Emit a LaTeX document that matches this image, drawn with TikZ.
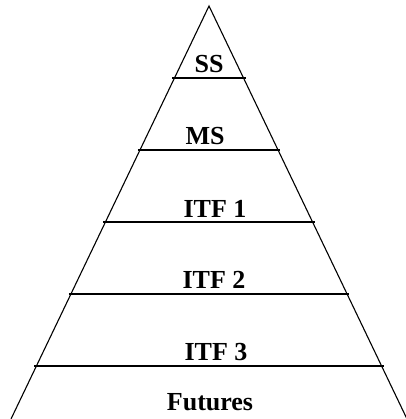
\documentclass[tikz,border=0pt]{standalone}
\usepackage{fontspec}
\setmainfont{Liberation Serif}
\usetikzlibrary{calc}
\tikzset{layer/.style={font=\bfseries\fontsize{26}{30}\selectfont, anchor=base, inner sep=0pt}}

\begin{document}
\begin{tikzpicture}[x=1pt,y=-1pt,line width=1.1pt]
    \useasboundingbox (0,0) rectangle (405,419);
    \coordinate (apex) at (209,6);
    \coordinate (bl) at (11,419);
    \coordinate (br) at (407,419);
    \draw (bl) -- (apex) -- (br);
    % layer lines
    \foreach \y in {78,150,222,294,366}
      \draw ($(apex)!{(\y-6)/413}!(bl)$) ++(-2,0) -- ($(apex)!{(\y-6)/413}!(br)$) -- ++(2,0);
    % labels
    \node[layer] (ss)  at (209,73)  {SS};
    \node[layer] (ms)  at (205,145) {MS};
    \node[layer] (itf1) at (215,217) {ITF 1};
    \node[layer] (itf2) at (214,288) {ITF 2};
    \node[layer] (itf3) at (216,360) {ITF 3};
    \node[layer] (fut) at (210,410) {Futures};
\end{tikzpicture}
\end{document}
